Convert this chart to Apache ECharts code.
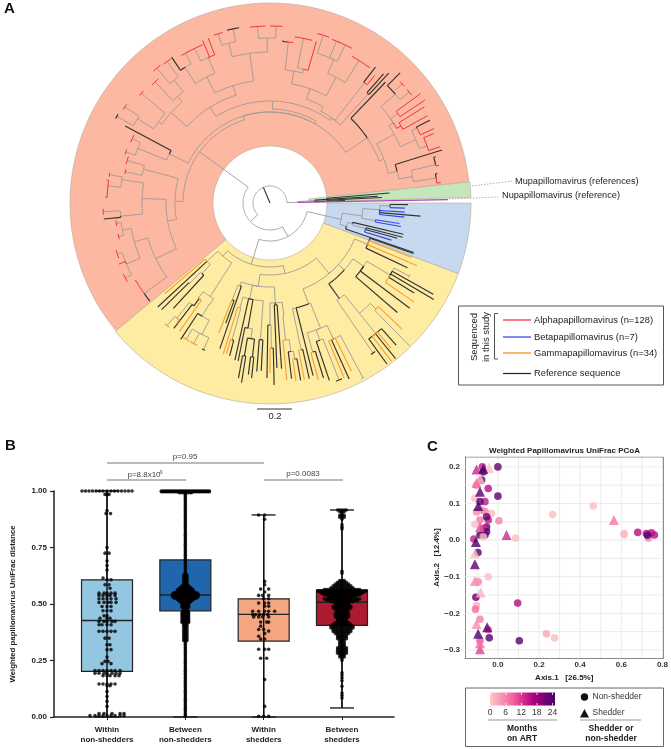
<!DOCTYPE html>
<html><head><meta charset="utf-8">
<script src="https://cdn.jsdelivr.net/npm/echarts@6/dist/echarts.min.js"></script>
<style>html,body{margin:0;padding:0;background:#fff}#c{width:671px;height:749px}</style></head>
<body><div id="c"></div>
<script>
// ---------- Panel A: tree data, radius/angle readings ----------
// internal node: [radius, stemColour, [children], stemAngle]; leaf: [angle, radius, colour, optional tip half-arc]
const sectors = [ // angle from, angle to, inner radius, outer radius, colour key
  [6.05,219.7,57,200,'pink'], [219.7,339.5,57,201,'yellow'], [339.5,360,57,201,'blue'], [1.6,6.05,39,201,'green']
];
const alphaRight = [117,'g',[[46.3,167,'k'],
  [122,'g',[
    [131,'g',[[17.1,180,'k'],
      [145,'g',[[168,'g',[[6.8,172,'r'],[10,170,'k']],8.5],[170,'g',[[12.6,173,'r'],[15.6,172,'k']],13]],10.5]],14],
    [142,'g',[
      [159,'g',[[165,'g',[[24.4,180,'r'],[27.4,180,'k']],27],[167,'g',[[18.3,179,'r'],[23,178,'r']],20]],23.4],
      [147,'g',[
        [152,'r',[[29,180,'r'],[31.9,182,'r']],30.5],
        [156,'g',[[33.6,186,'r'],[36,186,'r']],35],
        [166,'g',[[45,184,'k'],[42,178,'r',1],[38.5,178,'r',1.2]],41]],33]],29]],21]],33.8];
const alphaTop = [102,'g',[
  [113,'g',[
    [123,'g',[
      [151,'g',[[165,'g',[[107,177,'r',1.5],[102,178,'k',2]],104.5],[165,'g',[[94,177,'r',2.5],[88,177,'r',2]],91]],97.7],
      [141,'g',[[158,'g',[[116,172,'r',3],[112.5,176,'r'],[110.5,176,'r']],113],[160,'g',[[124,176,'k'],[119.5,172,'r',1.5]],122]],116.6]],107.5],
    [134,'g',[
      [141,'g',[[156,'g',[[130,176,'r',1.5],[126,175,'r',1.5]],128],[133.5,167,'r',1.5]],131],
      [138,'g',[[139.5,169,'r',1],[157,'g',[[146.5,174,'r',1],[150.5,176,'k',0.8]],147.5]],144]],137.5]],122],
  [105,'g',[
    [147,'g',[[48.7,172,'k'],[47.6,176,'k']],48],
    [153,'g',[[52.2,172,'k'],[50.6,165,'r']],51.8],
    [110,'g',[
      [121,'g',[
        [134,'g',[[162,'g',[[85.5,163,'k'],[82,163,'r']],83.5],[138,'g',[[78.5,168,'r',3],[74,168,'r']],76]],79.7],
        [142,'g',[[157,'g',[[72.4,176,'r',2],[67.7,175,'r',1.5],[64.6,175,'r',2.5]],66],
          [168,'g',[[60.6,169,'r'],[53.7,169,'r']],58]],62.3]],70.7]],61]],54]],88.5];
const alphaLeft = [95,'g',[
  [131,'g',[[163.4,149,'r',1.5],[167.8,148,'r',1]],165],
  [104,'g',[
    [128,'g',[
      [150,'g',[[170,163,'r',0.7],[163,'g',[[172,165,'r'],[178,165,'r']],174]],171],
      [150,'g',[[183,167,'r',1],[185.5,167,'k']],185]],178],
    [127,'g',[
      [141,'g',[[150,'g',[[187.5,155,'r',1],[192.5,155,'r',1]],190.4],
        [156,'g',[[198.5,161,'r',1.5],[202,163,'r'],[207.4,163,'r',1.5]],203]],196],
      [155,'g',[[210,156,'r'],[219,156,'k']],215.7]],206]],190]],179];
const alphaTree = [87,'g',[
  [91,'g',[alphaRight,[94,'g',[alphaTop],60.5],
    [112,'g',[[152,164,'k'],[143,'g',[[155,152,'r',1.5],[160.5,153,'r',1]],157.5]],154]],107],
  alphaLeft],144];
const gammaLeft = [71,'g',[
  [86,'g',[[220.8,139,'o'],[222.8,153,'k'],[98,'g',[[227.5,143,'k'],[114,'g',[[224.5,152,'k']],225]],226]],222.8],
  [111,'g',[
    [119,'g',[[234.8,157,'o'],[128,'k',[[232.5,158,'k'],[148,'g',[[230,160,'o',1],[232.2,152,'o']],231]],233.5]],233],
    [118,'g',[[132,'g',[[236.8,163,'k'],[148,'g',[[238.4,160,'o',1.3],[241.5,160,'o',1.5],[245.6,161,'k',0.6]],242.6]],239]],239.4]],237.4]],228.5];
const gammaMid = [84,'g',[
  [88,'g',[[104,'g',[[248.5,140,'o'],[249.8,128,'k']],248.7],[251,154,'k']],250],
  [98,'g',[
    [109,'g',[[252.8,158,'o'],[142,'g',[[253.9,157,'o'],[255.2,158,'k']],254.5]],254],[257.4,161,'k'],
    [127,'k',[[258.6,161,'k'],[137,'g',[[155,'k',[[259.8,178,'k'],[261,182,'k']],260.5],[155,'k',[[262.8,173,'k'],[264,176,'k']],263.5]],262]],260],
    [137,'g',[[265.5,169,'k'],[267,168,'k']],266]],258],
  [100,'g',[
    [122,'g',[[269,175,'k'],[145,'g',[[270,170,'o'],[271.3,182,'k']],270.5]],270],
    [102,'k',[[272.4,165,'k'],[274,166,'k']],273],
    [114,'g',[[138,'g',[[275.4,178,'o'],[150,'g',[[277,177,'k'],[158,'g',[[278.3,180,'o'],[279.8,180,'k']],279]],278]],276.5]],277]],273]],262];
const gammaRight = [92,'g',[
  [108,'g',[[150,'g',[[281,180,'o'],[282.6,180,'k']],282],[284,178,'k'],
    [135,'g',[
      [155,'g',[[285.3,183,'o'],[287,183,'k']],286],
      [146,'g',[[288.5,187,'k'],[291.3,190,'k',1]],290],
      [150,'g',[[293,190,'o'],[294.2,193,'k'],[295.8,187,'o'],[298,198,'g',0.5]],295]],292]],291],
  [100,'g',[
    [118,'k',[[304.5,182,'k',0.8],
      [142,'g',[[168,'g',[[306,199,'k'],[307.5,200,'o'],[308.9,200,'k'],[309.8,189,'o'],[311.6,190,'k']],309],
        [150,'g',[[316.3,183,'o'],[314.3,200,'g']],315]],309]],306],
    [113,'g',[[319.3,168,'k'],[323,175,'k'],
      [140,'g',[[325.5,175,'o'],[328,170,'k'],[329.5,190,'k'],[330.8,187,'k'],[332.3,157,'g',0.6]],329]],326]],318],
  [106,'g',[[334.8,152,'k'],[336.9,160,'o'],[339,152,'o'],[340.6,152,'k']],337]],310];
const gammaTree = [64,'g',[gammaLeft,[72,'g',[gammaMid,gammaRight],282]],253];
const betaTree = [73,'g',[
  [93,'g',[
    [110,'g',[[120,'g',[[359.3,138,'k'],[357.8,135,'b']],358.6],[356.1,135,'b'],[355,151,'k'],[354,135,'b']],356.5],
    [107,'g',[[349.8,133,'b'],[351,131,'b']],350.5]],352],
  [80,'g',[[341,152,'k'],[85,'g',[[346.8,137,'k'],[99,'g',[[345.5,137,'k'],[344.5,132,'k'],[343,127,'b']],345]],346]],343]],347];
const muNuTree = [28,'g',[[1.1,178,'p'],
  [45,'g',[[57,'k',[[4.8,120,'k'],[3.6,108,'k'],[2.8,112,'k']],3.6],[1.9,75,'k']],3]],1.5];
const treeRoot = [17,'k',[
  muNuTree,
  [27,'g',[alphaTree,[38,'g',[gammaTree,[60,'g',[betaTree],347]],298]],223.6]],113];

// ---------- Panel B ----------
const groupNames = ['Within\nnon-shedders','Between\nnon-shedders','Within\nshedders','Between\nshedders'];
const boxStats = [ // position, low, q1, median, q3, high
  [1,0,0.202,0.427,0.607,1],[2,0,0.47,0.54,0.695,1],[3,0,0.336,0.454,0.523,0.894],[4,0.04,0.405,0.508,0.561,0.916]];
const boxColors = ['#93c6e1','#1f66ad','#f4a680','#ae1a2f'];
// rows: [value, offsets from the box centre]
const within1Rows = [[1,[-25,-21.5,-18,-14.5,-11,-7.5,-4,0,4,7.5,11,14.5,18,21.5,25]],[.985,[-2,0,2]],[.913,[0]],[.9,[-1,3.5]],[.75,[0]],[.725,[-2,2]],[.69,[0]],[.67,[0]],[.65,[0]],[.615,[-4]],[.607,[0,4]],[.585,[-2,2]],[.57,[3]],[.548,[-8,-3,0,4,8]],[.538,[-8,-4,0,3,8]],[.523,[-8,-4,0,4,9]],[.507,[-8,-3,1,4,9]],[.489,[-5,0,4]],[.47,[-4,0,4]],[.448,[-3,0]],[.437,[-7,0,3]],[.423,[-8,-3,0,5,8]],[.408,[-8,-5,0,4]],[.379,[-8,-4,0,4,8]],[.349,[-2,2]],[.32,[0,3]],[.298,[0,4]],[.265,[0]],[.246,[-2,1]],[.236,[-5,4]],[.206,[-12,-8,-4,0,4,8,13]],[.194,[-12,-8,-3,0,5,9,13]],[.183,[-4,0,3,8,12]],[.146,[-8,-4,0,4,8]],[.138,[0,3]],[.113,[0]],[.091,[0]],[.069,[0]],[.047,[0]],[.015,[-8,-3,5,13,17]],[.006,[-17,-12,-8,-4,0,4,8,13,17]]];
const within3Rows = [[.894,[-5,1]],[.875,[1]],[.6,[1]],[.585,[1]],[.566,[-3,5]],[.553,[1]],[.538,[-5,-1,5]],[.523,[0,5]],[.504,[-5,1,5]],[.49,[1,5]],[.468,[-11,-5,1,5,11]],[.453,[-11,-8,-4,0,4]],[.443,[-10,-5,-1,5]],[.42,[-3,5,3]],[.402,[-3]],[.387,[-5,0]],[.38,[5]],[.37,[1]],[.357,[-5]],[.345,[-3,1]],[.3,[-5,5,1]],[.26,[-3,3]],[.166,[1]],[.047,[1]],[.003,[-5,0,5]]];
// dense groups: [value, half-width of the swarm in px]
const between2Rows = [[1,26],[.997,26],[.993,8],[.987,3],[.98,2.5],[.972,2.5],[.964,2],[.956,2],[.948,2],[.94,1.5],[.932,1.5],[.924,1.5],[.916,1.5],[.908,2],[.9,2],[.892,2.5],[.884,2.5],[.876,3],[.868,3],[.86,2.5],[.852,2.5],[.844,2],[.836,2],[.828,2],[.82,2],[.812,2],[.804,2],[.796,2],[.788,2],[.78,2],[.772,2],[.764,2],[.756,2],[.748,2],[.74,2],[.732,2.5],[.724,2.5],[.716,2.5],[.708,2.5],[.7,3],[.692,3],[.684,2.5],[.676,2.5],[.668,3],[.66,3],[.652,3],[.644,3],[.636,3],[.628,3.5],[.62,3.5],[.612,3.5],[.604,3.5],[.596,4],[.588,4.5],[.58,6],[.574,7],[.568,9],[.562,10],[.556,11],[.55,13],[.544,14.5],[.538,15],[.532,15],[.526,13],[.52,11],[.514,9],[.508,7],[.502,6],[.496,5.5],[.49,5],[.484,5],[.478,4.5],[.472,4.5],[.466,5],[.46,5],[.454,6],[.448,6],[.442,6],[.436,5.5],[.43,5],[.424,5],[.418,5],[.41,4.5],[.402,4],[.394,4],[.386,4],[.378,4],[.37,4],[.362,3.5],[.354,3.5],[.346,3.5],[.338,3.5],[.33,3],[.322,3],[.314,3],[.306,3],[.298,3],[.29,3],[.282,3],[.274,2.5],[.266,2.5],[.258,2.5],[.25,2.5],[.242,2.5],[.234,2.5],[.226,2.5],[.218,2.5],[.21,2.5],[.202,3],[.194,3],[.186,2.5],[.178,2.5],[.17,2],[.162,2],[.154,2],[.146,2],[.138,2],[.13,1.5],[.122,1.5],[.114,1.5],[.106,1.5],[.098,1.5],[.09,1.5],[.082,1.5],[.074,1.5],[.066,2],[.058,2],[.05,2],[.042,1.5],[.034,1.5],[.026,1.5],[.018,1],[.01,1],[.003,1]];
const between4Rows = [[.916,7],[.908,5],[.9,3],[.892,5],[.884,4],[.875,3],[.85,3],[.84,3],[.832,2.5],[.645,2.5],[.636,3],[.604,5],[.596,7],[.588,9],[.58,11],[.572,14],[.564,20],[.558,26],[.552,25],[.546,23],[.54,20],[.534,15],[.528,16],[.522,20],[.516,19],[.51,14],[.504,10],[.498,9],[.49,12],[.482,11],[.474,9],[.466,8],[.458,10],[.45,10],[.442,9],[.434,7],[.426,8],[.418,10],[.41,12],[.402,13],[.394,14],[.386,12],[.378,12],[.37,10],[.362,8],[.354,7],[.346,6],[.338,5],[.33,5],[.322,4],[.314,5],[.306,6],[.298,7],[.29,7],[.282,6],[.274,5],[.266,4],[.258,3],[.25,3],[.196,2],[.186,2],[.173,2],[.16,1.5],[.136,1.5],[.106,2],[.095,1.5],[.084,1.5]];
const bracketLabels = ['p=0.95','p=8.8x10','p=0.0083'];

// ---------- Panel C ----------
// [axis1, axis2, months on ART]
const nonShedders = [[0,.2,22],[-.076,.2,14],[-.071,.186,22],[-.047,.141,15],[0,.12,22],[-.112,.114,1],[-.063,.105,14],[-.087,.105,22],[-.079,.164,22],[-.104,.15,6],[-.031,.073,1],[.266,.07,1],[.463,.093,1],[.005,.053,6],[-.104,.077,5],[-.08,.082,5],[-.063,.078,6],[-.047,.055,14],[-.087,.055,7],[-.112,.043,1],[-.055,.064,22],[-.055,.036,22],[-.071,.032,13],[-.055,.023,23],[-.087,.014,24],[-.063,.014,22],[-.071,.009,1],[.086,.005,1],[-.117,.003,14],[-.097,-.034,23],[-.047,-.1,1],[-.096,-.114,6],[-.107,-.156,22],[.096,-.172,15],[-.104,-.179,2],[-.109,-.189,8],[-.087,-.216,6],[-.047,-.245,10],[-.042,-.267,23],[.104,-.275,23],[.236,-.256,3],[.275,-.267,1],[-.087,-.275,9],[.614,.015,2],[.614,.018,1],[.68,.021,15],[.732,.005,5],[.747,.02,15],[.722,.018,15],[.761,.014,15],[.727,.013,24]];
const shedders = [[-.104,.193,13],[-.044,.197,1],[-.071,.195,24],[-.087,.168,1],[-.104,.156,8],[-.087,.132,23],[-.096,.093,24],[-.087,.036,10],[.042,.014,13],[.564,.055,7],[-.107,-.005,24],[-.112,-.036,1],[-.112,-.066,22],[-.112,-.112,5],[-.084,-.143,2],[-.104,-.229,5],[-.052,-.238,22],[-.096,-.256,24],[-.087,-.298,11],[-.087,-.282,8]];
const gridX = [-.1,0,.1,.2,.3,.4,.5,.6,.7,.8];
const gridY = [-.3,-.25,-.2,-.15,-.1,-.05,0,.05,.1,.15,.2];
const xTicksC = [0,.2,.4,.6,.8];
const yTicksC = [-.3,-.2,-.1,0,.1,.2];
const monthTicks = ['0','6','12','18','24'];
const monthColors = ['#fcc9c5','#f768a1','#ae017e','#49006a'];

// ---------- Build ----------
const FONT = '"Liberation Sans", Arial, sans-serif';
const treeColors = {g:'#a09a96',k:'#33332e',r:'#f5333a',o:'#f8a23a',b:'#3344e6',p:'#a64ab4'};
const treeWidths = {g:.9,k:1.15,r:1,o:1.2,b:1.15,p:1.3};
const sectorColors = {pink:'#fcb8a0',yellow:'#feeca2',blue:'#c6d9ee',green:'#c4e6ba'};
const segs = [];
const isNode = n => Array.isArray(n[2]);
const angleOf = n => isNode(n) ? n[3] : n[0];
function walk(n, fromR){
  if(isNode(n)){
    const [r,c,kids,a] = n;
    segs.push([fromR,a,r,a,c]);
    for(const k of kids){ segs.push([r,a,r,angleOf(k),isNode(k)?k[1]:(k[3]?'g':k[2])]); walk(k,r); }
  } else {
    const [a,r,c,h] = n;
    segs.push([fromR,a,r,a,h?'g':c]);
    if(h) segs.push([r,a-h,r,a+h,c]);
  }
}
walk(treeRoot,0);
const order = ['g','k','p','b','o','r'];
segs.sort((x,y)=>order.indexOf(x[4])-order.indexOf(y[4]));
const toP = (api,r,a)=>api.coord([r,((a%360)+360)%360]);
function arcPts(api,r,a1,a2){ const n=Math.max(2,Math.ceil(Math.abs(a2-a1)/2)+1),p=[];
  for(let i=0;i<n;i++)p.push(toP(api,r,a1+(a2-a1)*i/(n-1))); return p; }

function swarm(rows,pos){const o=[];for(const [v,xs] of rows)for(const x of xs)o.push([pos+x/78.3,v]);return o;}
// a row's half-width includes the dot radius, so dots are placed inside it
function dense(rows,pos,step){const o=[];for(const [v,h] of rows){const n=Math.floor(Math.max(0,h-1.5)/step);
  for(let i=-n;i<=n;i++)o.push([pos+i*step/78.3,v]);}return o;}
const bPoints = [...swarm(within1Rows,1),...dense(between2Rows,2,1.6),...swarm(within3Rows,3),...dense(between4Rows,4,2.2)];

const T=(text,x,y,o={})=>({type:'text',x,y,rotation:o.rot||0,silent:true,z:10,style:{text,fill:o.fill||'#222',font:`${o.bold?'bold ':''}${o.size||10}px ${FONT}`,textAlign:o.align||'left',textVerticalAlign:'middle',lineHeight:o.lh}});
const Ln=(x1,y1,x2,y2,stroke='#555',w=1,dash)=>({type:'line',silent:true,z:10,shape:{x1,y1,x2,y2},style:{stroke,lineWidth:w,lineDash:dash}});

const graphic = [
  T('A',4,9,{bold:true,size:15,fill:'#111'}), T('B',5,446,{bold:true,size:15,fill:'#111'}), T('C',427,447,{bold:true,size:15,fill:'#111'}),
  T('Mupapillomavirus (references)',515,181,{size:9.2}), T('Nupapillomavirus (reference)',502,195.5,{size:9.2}),
  Ln(472,186,513,181,'#999',.8,[1.5,1.5]), Ln(449,199,498,197,'#999',.8,[1.5,1.5]),
  Ln(257,409,292,409,'#333',1), T('0.2',275,416.5,{size:9.5,align:'center'}),
  {type:'rect',silent:true,z:9,shape:{x:458.5,y:306,width:205,height:79},style:{fill:'#fff',stroke:'#555',lineWidth:1}},
  T('Sequenced',474,337,{size:9.5,rot:Math.PI/2,align:'center'}), T('in this study',486,337,{size:9.5,rot:Math.PI/2,align:'center'}),
  {type:'polyline',silent:true,z:10,shape:{points:[[498,313.5],[494.5,313.5],[494.5,359],[498,359]]},style:{stroke:'#555',lineWidth:1,fill:null}},
  Ln(503,320,531,320,'#f5222d',1.2), Ln(503,337,531,337,'#2a3fe8',1.2), Ln(503,353,531,353,'#f8a23a',1.5), Ln(503,373.5,531,373.5,'#222',1.2),
  T('Alphapapillomavirus (n=128)',534,320.5,{size:9.4}), T('Betapapillomavirus (n=7)',534,337,{size:9.4}),
  T('Gammapapillomavirus (n=34)',534,353,{size:9.4}), T('Reference sequence',534,373.5,{size:9.4}),
  // B brackets
  Ln(107,463,264,463,'#777',1), T(bracketLabels[0],185,457,{size:8,align:'center',fill:'#444'}),
  Ln(107,480,186,480,'#777',1), T(bracketLabels[1],144,474.5,{size:8,align:'center',fill:'#444'}), T('-9',158.5,473,{size:4.5,fill:'#444'}),
  Ln(264,480,343,480,'#777',1), T(bracketLabels[2],303,474,{size:8,align:'center',fill:'#444'}),
  // C legend
  {type:'rect',silent:true,z:9,shape:{x:465.5,y:688,width:198,height:58.5},style:{fill:'#fff',stroke:'#666',lineWidth:1}},
  {type:'rect',silent:true,z:10,shape:{x:490,y:692.5,width:65,height:13},style:{fill:new echarts.graphic.LinearGradient(0,0,1,0,monthColors.map((c,i)=>({offset:i/3,color:c})))}},
  ...[0,1,2,3,4].map(i=>T(monthTicks[i],490+i*15.6,713,{size:8.5,align:'center',fill:'#333'})),
  ...[0,1,2,3,4].map(i=>Ln(490.5+i*15.5,692.5,490.5+i*15.5,695,'#fff',.8)),...[0,1,2,3,4].map(i=>Ln(490.5+i*15.5,703,490.5+i*15.5,705.5,'#fff',.8)),
  Ln(488,720,557,720,'#999',1), Ln(580,720,641,720,'#999',1),
  T('Months',522,729,{bold:true,size:8.5,align:'center'}), T('on ART',522,738.5,{bold:true,size:8.5,align:'center'}),
  T('Shedder or',611,729,{bold:true,size:8.5,align:'center'}), T('non-shedder',611,738.5,{bold:true,size:8.5,align:'center'}),
  {type:'circle',silent:true,z:10,shape:{cx:584.5,cy:697,r:3.7},style:{fill:'#111'}},
  {type:'polygon',silent:true,z:10,shape:{points:[[584.5,709],[580,717.5],[589,717.5]]},style:{fill:'#111'}},
  T('Non-shedder',592.5,696.5,{size:8.5,fill:'#333'}), T('Shedder',592.5,713,{size:8.5,fill:'#333'})
];

const axisLineB={show:true,lineStyle:{color:'#222',width:1.5}};
const option = {
  animation:false, backgroundColor:'#fff',
  polar:{center:[270,203],radius:200},
  angleAxis:{type:'value',min:0,max:360,startAngle:0,clockwise:false,show:false},
  radiusAxis:{type:'value',min:0,max:200,show:false},
  title:{text:'Weighted Papillomavirus UniFrac PCoA',left:564.5,top:447,textAlign:'center',padding:0,textStyle:{fontFamily:FONT,fontWeight:'bold',fontSize:8,color:'#222'}},
  grid:[{left:54,top:491,width:340,height:226},{left:465,top:457,width:198.5,height:201}],
  xAxis:[
    {gridIndex:0,type:'value',min:.323,max:4.664,splitLine:{show:false},axisLine:{show:true,onZero:false,lineStyle:{color:'#222',width:1.5}},
     axisTick:{show:true,length:3,customValues:[1,2,3,4],lineStyle:{color:'#222',width:1}},
     axisLabel:{customValues:[1,2,3,4],margin:8,formatter:v=>groupNames[Math.round(v)-1],fontFamily:FONT,fontWeight:'bold',fontSize:8,color:'#222',lineHeight:10}},
    {gridIndex:1,type:'value',min:-.16,max:.805,splitLine:{show:false},axisLine:{show:true,onZero:false,lineStyle:{color:'#888',width:1}},
     axisTick:{show:false},name:'Axis.1   [26.5%]',nameLocation:'middle',nameGap:16,nameTextStyle:{fontFamily:FONT,fontWeight:'bold',fontSize:8,color:'#222'},
     axisLabel:{customValues:xTicksC,margin:3,formatter:v=>v.toFixed(1),fontFamily:FONT,fontWeight:'bold',fontSize:8,color:'#333'}}
  ],
  yAxis:[
    {gridIndex:0,type:'value',min:0,max:1,interval:.25,splitLine:{show:false},axisLine:axisLineB,axisTick:{show:true,length:4,lineStyle:{color:'#222',width:1.2}},
     name:'Weighted papillomavirus UniFrac distance',nameLocation:'middle',nameGap:37,nameTextStyle:{fontFamily:FONT,fontWeight:'bold',fontSize:7.8,color:'#222'},
     axisLabel:{formatter:v=>v.toFixed(2),margin:7,fontFamily:FONT,fontWeight:'bold',fontSize:8,color:'#222'}},
    {gridIndex:1,type:'value',min:-.322,max:.227,splitLine:{show:false},axisLine:{show:true,onZero:false,lineStyle:{color:'#888',width:1}},axisTick:{show:false},
     name:'Axis.2   [12.4%]',nameLocation:'middle',nameGap:22,nameTextStyle:{fontFamily:FONT,fontWeight:'bold',fontSize:8,color:'#222'},
     axisLabel:{customValues:yTicksC,margin:5,formatter:v=>v.toFixed(1).replace('-','\u2212'),fontFamily:FONT,fontWeight:'bold',fontSize:8,color:'#333'}}
  ],
  visualMap:{show:false,type:'continuous',dimension:2,min:0,max:24,seriesIndex:[6,7],inRange:{color:monthColors}},
  graphic:{elements:graphic},
  series:[
    {type:'custom',coordinateSystem:'polar',silent:true,clip:false,z:1,data:sectors,encode:{angle:0,radius:3},
      renderItem(p,api){const s=sectors[p.dataIndex];const pts=[...arcPts(api,s[3],s[0],s[1]),...arcPts(api,s[2],s[1],s[0])];
        return {type:'polygon',shape:{points:pts},style:{fill:sectorColors[s[4]],stroke:'#b5a99a',lineWidth:.6}};}},
    {type:'custom',coordinateSystem:'polar',silent:true,clip:false,z:2,data:segs,encode:{radius:0,angle:1},
      renderItem(p,api){const s=segs[p.dataIndex];
        const pts=s[0]===s[2]?arcPts(api,s[0],s[1],s[3]):[toP(api,s[0],s[1]),toP(api,s[2],s[3])];
        return {type:'polyline',shape:{points:pts},style:{stroke:treeColors[s[4]],lineWidth:treeWidths[s[4]],fill:null}};}},
    {type:'custom',xAxisIndex:0,yAxisIndex:0,silent:true,clip:false,z:3,data:boxStats,encode:{x:0,y:[1,2,3,4,5]},
      renderItem(p,api){const b=boxStats[p.dataIndex];const c=v=>api.coord([b[0],v]);const hw=25.5,cap=12;
        const [x]=c(0);const stroke={stroke:'#222',lineWidth:1.4};
        const l=(x1,y1,x2,y2)=>({type:'line',shape:{x1,y1,x2,y2},style:stroke});
        return {type:'group',children:[
          l(x,c(b[1])[1],x,c(b[5])[1]),
          l(x-cap,c(b[1])[1],x+cap,c(b[1])[1]), l(x-cap,c(b[5])[1],x+cap,c(b[5])[1]),
          {type:'rect',shape:{x:x-hw,y:c(b[4])[1],width:hw*2,height:c(b[2])[1]-c(b[4])[1]},style:{fill:boxColors[p.dataIndex],stroke:'#222',lineWidth:1.2}},
          l(x-hw,c(b[3])[1],x+hw,c(b[3])[1])]};}},
    {type:'custom',xAxisIndex:0,yAxisIndex:0,silent:true,clip:false,z:3.1,data:boxStats.map(b=>[b[0],b[1],b[5]]),encode:{x:0,y:[1,2]},
      renderItem(p,api){const a=api.coord([api.value(0),api.value(1)]),b=api.coord([api.value(0),api.value(2)]);
        return {type:'line',shape:{x1:a[0],y1:a[1],x2:b[0],y2:b[1]},style:{stroke:'#111',lineWidth:1.4}};}},
    {type:'scatter',xAxisIndex:0,yAxisIndex:0,silent:true,clip:false,z:4,symbolSize:3.6,data:bPoints,itemStyle:{color:'#000'}},
    {type:'custom',xAxisIndex:1,yAxisIndex:1,silent:true,clip:true,z:1,
      data:[...gridX.map(v=>[v,-.322,v,.227]),...gridY.map(v=>[-.16,v,.805,v])],encode:{x:[0,2],y:[1,3]},
      renderItem(p,api){const a=api.coord([api.value(0),api.value(1)]),b=api.coord([api.value(2),api.value(3)]);
        return {type:'line',shape:{x1:a[0],y1:a[1],x2:b[0],y2:b[1]},style:{stroke:'#e6e6e6',lineWidth:.8}};}},
    {type:'scatter',xAxisIndex:1,yAxisIndex:1,silent:true,z:3,symbol:'circle',symbolSize:7.6,data:nonShedders},
    {type:'scatter',xAxisIndex:1,yAxisIndex:1,silent:true,z:3,symbol:'triangle',symbolSize:10,data:shedders},
    {type:'line',xAxisIndex:1,yAxisIndex:1,silent:true,symbol:'none',z:2,data:[[.805,-.322],[.805,.227],[-.16,.227]],lineStyle:{color:'#888',width:1}}
  ]
};
const chart = echarts.init(document.getElementById('c'),null,{renderer:'canvas'});
chart.setOption(option);
</script></body></html>
